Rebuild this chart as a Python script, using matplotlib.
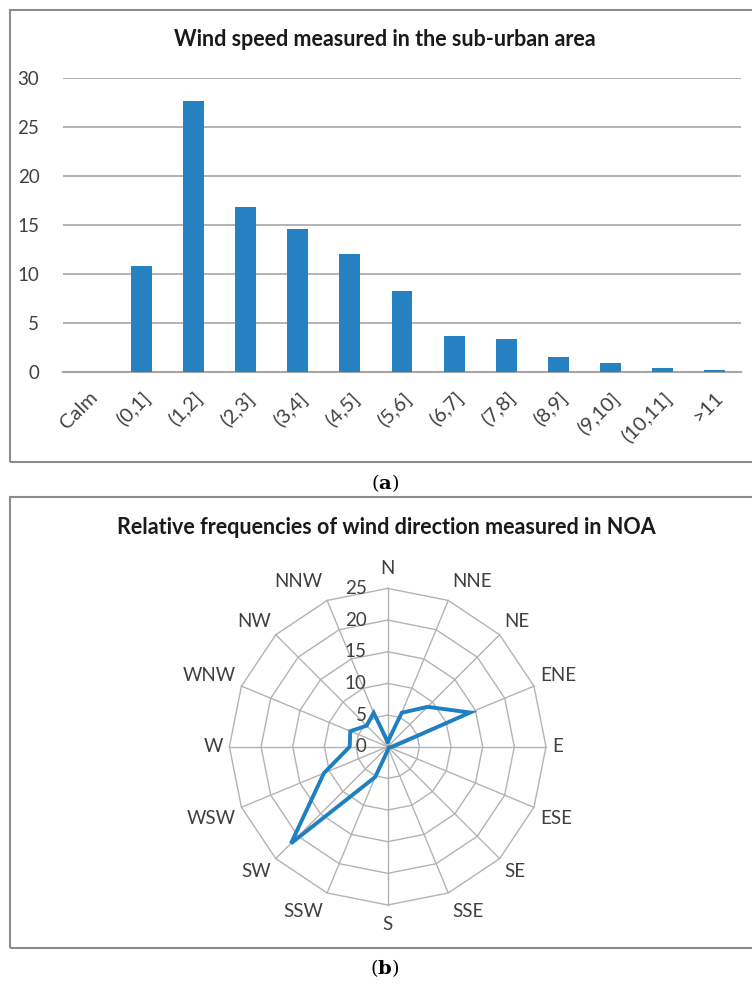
import numpy as np
import matplotlib
matplotlib.use('Agg')
import matplotlib.pyplot as plt
from matplotlib.patches import Rectangle

plt.rcParams['font.family'] = ['Lato', 'DejaVu Sans']
plt.rcParams['mathtext.fontset'] = 'dejavuserif'

# wind speed classes (m/s) and frequencies (%)
speed_classes = ['Calm', '(0,1]', '(1,2]', '(2,3]', '(3,4]', '(4,5]', '(5,6]',
                 '(6,7]', '(7,8]', '(8,9]', '(9,10]', '(10,11]', '>11']
speed_freq = [0.0, 10.8, 27.7, 16.8, 14.6, 12.0, 8.3, 3.7, 3.4, 1.5, 0.9, 0.4, 0.25]

# wind direction frequencies (%)
directions = ['N', 'NNE', 'NE', 'ENE', 'E', 'ESE', 'SE', 'SSE',
              'S', 'SSW', 'SW', 'WSW', 'W', 'WNW', 'NW', 'NNW']
direction_freq = [0.8, 5.8, 8.9, 14.1, 0.8, 0.3, 0.2, 0.3,
                  0.6, 5.2, 21.6, 10.9, 6.0, 6.4, 4.7, 5.8]
radar_ticks = [0, 5, 10, 15, 20, 25]

W, H = 752, 985
fig = plt.figure(figsize=(W / 100, H / 100), dpi=100)


def box(x0, y0, x1, y1):
    # pixel box (top-left origin) -> figure fraction
    return [x0 / W, 1 - y1 / H, (x1 - x0) / W, (y1 - y0) / H]


text_col = '#404040'
grid_col = '#a6a6a6'
blue = '#2681c2'

# panel frames
for y0, y1 in [(10, 462), (497, 948)]:
    fig.patches.append(Rectangle((10 / W, 1 - y1 / H), (760 - 10) / W, (y1 - y0) / H,
                                 transform=fig.transFigure, fill=False,
                                 edgecolor='#8c8c8c', lw=1.5))

# ---- (a) bar chart ----
ax = fig.add_axes(box(63, 78, 741, 372))
x = np.arange(len(speed_classes))
ax.bar(x, speed_freq, width=0.4, color=blue, zorder=3)
ax.set_xlim(-0.5, len(speed_classes) - 0.5)
ax.set_ylim(0, 30)
ax.set_yticks(range(0, 31, 5))
ax.yaxis.grid(True, color=grid_col, lw=1.2)
ax.set_axisbelow(True)
for s in ['top', 'right', 'left']:
    ax.spines[s].set_visible(False)
ax.spines['bottom'].set_color(grid_col)
ax.spines['bottom'].set_linewidth(1.5)
ax.tick_params(length=0, labelcolor=text_col)
ax.tick_params(axis='y', pad=17, labelsize=13.5)
ax.set_xticks(x)
ax.set_xticklabels(speed_classes, rotation=45, ha='right', rotation_mode='anchor')
ax.tick_params(axis='x', pad=12, labelsize=14.5)

fig.text(385 / W, 1 - 40 / H, 'Wind speed measured in the sub-urban area',
         ha='center', va='center', fontsize=15.5, fontweight='bold', color='#1a1a1a')
fig.text(385 / W, 1 - 483 / H, r'($\mathbf{a}$)', ha='center', va='center',
         fontsize=14, family='DejaVu Serif')

# ---- (b) radar chart ----
cx, cy, R = 387.7, 746.7, 158.3
L = 30.0
half = R / 25 * L
rax = fig.add_axes(box(cx - half, cy - half, cx + half, cy + half))
rax.set_xlim(-L, L)
rax.set_ylim(-L, L)
rax.set_aspect('equal')
rax.axis('off')

theta = np.arange(len(directions)) * 2 * np.pi / len(directions)
ring = np.append(theta, theta[0])
for r in radar_ticks[1:]:
    rax.plot(r * np.sin(ring), r * np.cos(ring), color='#b3b3b3', lw=1.0, zorder=1)
for t in theta:
    rax.plot([0, 25 * np.sin(t)], [0, 25 * np.cos(t)], color='#b3b3b3', lw=1.0, zorder=1)

vals = np.append(direction_freq, direction_freq[0])
rax.plot(vals * np.sin(ring), vals * np.cos(ring), color='#1f7fc1', lw=2.8,
         solid_joinstyle='miter', zorder=3)

for r in radar_ticks:
    rax.text(-3.3, r, str(r), ha='right', va='center', fontsize=13.5, color=text_col)

for name, t in zip(directions, theta):
    s, c = np.sin(t), np.cos(t)
    ha = 'left' if s > 0.1 else ('right' if s < -0.1 else 'center')
    va = 'bottom' if c > 0.1 else ('top' if c < -0.1 else 'center')
    rl = 26.8 if abs(c) > 0.9 else 26.0
    rax.text(rl * s, rl * c, name, ha=ha, va=va, fontsize=13.5, color=text_col)

fig.text(386 / W, 1 - 527 / H, 'Relative frequencies of wind direction measured in NOA',
         ha='center', va='center', fontsize=15.5, fontweight='bold', color='#1a1a1a')
fig.text(385 / W, 1 - 968 / H, r'($\mathbf{b}$)', ha='center', va='center',
         fontsize=14, family='DejaVu Serif')

fig.savefig('out.png', dpi=100)
